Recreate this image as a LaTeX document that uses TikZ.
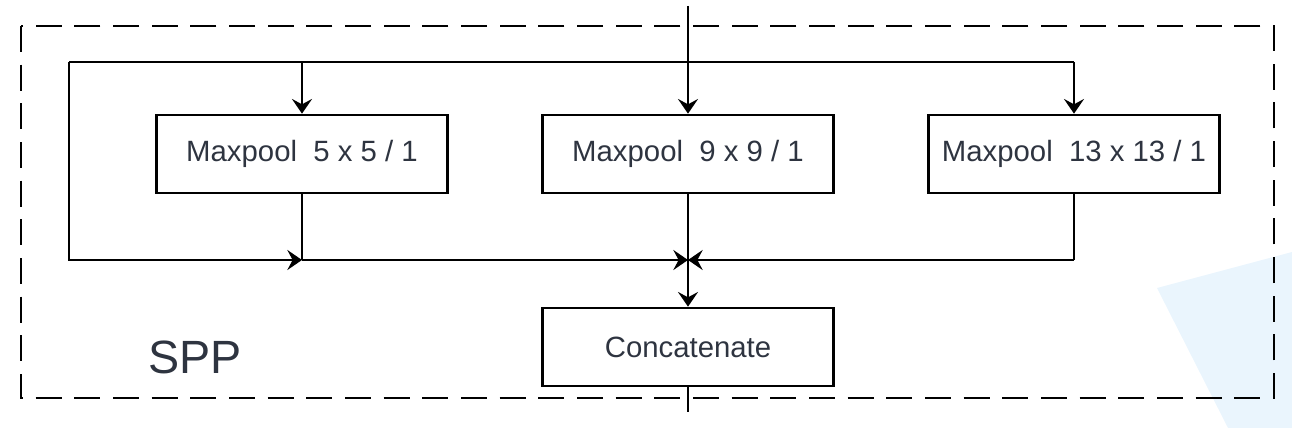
\documentclass[tikz,border=0pt]{standalone}
\usepackage{fontspec}
\setmainfont{Liberation Sans}
\usetikzlibrary{arrows.meta}
\definecolor{txt}{HTML}{2E3440}
\definecolor{paleblue}{HTML}{EAF5FD}
\tikzset{
  box/.style={draw=black, line width=2pt, minimum width=218pt, minimum height=58.5pt, inner sep=0pt, font=\fontsize{22}{26}\selectfont, text=txt},
  wire/.style={draw=black, line width=2pt},
  arr/.style={wire, -{Stealth[length=11pt,width=15pt,inset=4pt]}},
  frame/.style={draw=black, line width=2pt, dash pattern=on 19.5pt off 9.5pt}
}
\begin{document}
\begin{tikzpicture}[x=0.75pt,y=-0.75pt]
\useasboundingbox (0,0) rectangle (1292,428);
\fill[paleblue] (1157,288) -- (1292,252) -- (1292,428) -- (1228,428) -- cycle;
\draw[frame] (21,26) rectangle (1274,398);
\node[box] (b1) at (302,154) {Maxpool\ \ 5 x 5 / 1};
\node[box] (b2) at (688,154) {Maxpool\ \ 9 x 9 / 1};
\node[box] (b3) at (1074,154) {Maxpool\ \ 13 x 13 / 1};
\node[box] (cc) at (688,347) {Concatenate};
\node[font=\fontsize{35}{40}\selectfont, text=txt, anchor=west, inner sep=0pt] (spp) at (148,357) {SPP};
\coordinate (in) at (688,6);
\coordinate (out) at (688,412);
\coordinate (tl) at (69,62);
\coordinate (tr) at (1074,62);
\coordinate (t1) at (302,62);
\coordinate (bl) at (69,260);
\coordinate (j1) at (302,260);
\coordinate (jc) at (688,260);
\coordinate (br) at (1074,260);
\draw[arr] (in) -- (b2.north);
\draw[wire] (tl) -- (tr);
\draw[arr] (t1) -- (b1.north);
\draw[arr] (tr) -- (b3.north);
\draw[arr] (tl) -- (bl) -- (j1);
\draw[wire] (b1.south) -- (j1);
\draw[arr] (j1) -- (jc);
\draw[wire] (b3.south) -- (br);
\draw[arr] (br) -- (jc);
\draw[arr] (b2.south) -- (cc.north);
\draw[wire] (cc.south) -- (out);
\end{tikzpicture}
\end{document}
